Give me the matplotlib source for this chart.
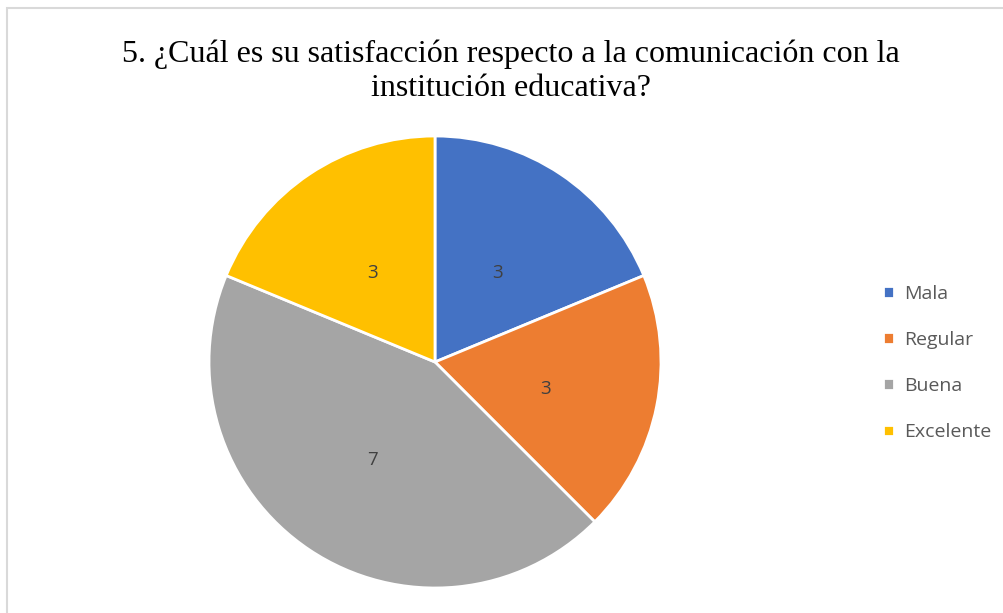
import matplotlib.pyplot as plt
from matplotlib.patches import Rectangle

# Datos de la encuesta
categorias = ['Mala', 'Regular', 'Buena', 'Excelente']
valores = [3, 3, 7, 3]
colores = ['#4472C4', '#ED7D31', '#A5A5A5', '#FFC000']
titulo = '5. ¿Cuál es su satisfacción respecto a la comunicación con la\ninstitución educativa?'

W, H = 1004, 613
fig = plt.figure(figsize=(W / 100, H / 100), dpi=100)

# borde gris del area del grafico
fig.patches.append(Rectangle((7 / W, -0.1), 1.2, 1 - 8 / H + 0.1, transform=fig.transFigure,
                             fill=False, edgecolor='#D9D9D9', lw=1.5))

cx, cy, r = 435, 362, 226
ax = fig.add_axes([(cx - r) / W, (H - cy - r) / H, 2 * r / W, 2 * r / H])
wedges, texts, autotexts = ax.pie(valores, colors=colores, startangle=90, counterclock=False,
                                  autopct=lambda p: '%d' % round(p * sum(valores) / 100.0),
                                  pctdistance=0.5,
                                  wedgeprops=dict(edgecolor='white', linewidth=2),
                                  textprops=dict(fontsize=13.5, color='#404040', family='Open Sans'))
for t in autotexts:
    x, y = t.get_position()
    t.set_position((x, y - 0.02))
ax.set_aspect('equal')
ax.set_xlim(-1, 1)
ax.set_ylim(-1, 1)

fig.text(511 / W, 1 - 71 / H, titulo, ha='center', va='center', fontsize=23,
         family='Liberation Serif', color='black', linespacing=1.22)

leg = fig.legend(wedges, categorias, loc='center left', bbox_to_anchor=(866 / W, 1 - 363 / H),
                 frameon=False, handlelength=0.55, handleheight=0.55,
                 handletextpad=0.5, labelspacing=1.45, prop=dict(family='Open Sans', size=14))
for t in leg.get_texts():
    t.set_color('#595959')

plt.savefig('out.png', dpi=100)
